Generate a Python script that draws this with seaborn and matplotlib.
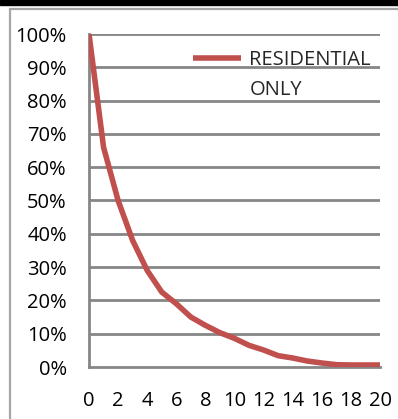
import matplotlib
matplotlib.use("Agg")
import matplotlib.pyplot as plt
from matplotlib.lines import Line2D
from matplotlib.patches import Rectangle
import seaborn as sns
import pandas as pd

# Share of properties remaining versus distance
years = list(range(0, 21))
share = [1.00, 0.66, 0.50, 0.38, 0.29, 0.225, 0.19, 0.15, 0.125, 0.103,
         0.086, 0.065, 0.051, 0.034, 0.027, 0.018, 0.012, 0.007, 0.006,
         0.006, 0.006]
series_name = "RESIDENTIAL ONLY"
y_ticks = [i / 10 for i in range(11)]
y_labels = [f"{i * 10}%" for i in range(11)]
x_labels = [str(v) if v % 2 == 0 else "" for v in years]

df = pd.DataFrame({"x": years, "share": share})

sns.set_style("white")
plt.rcParams["font.family"] = ["Open Sans", "DejaVu Sans"]

W, H = 398, 419
FS = 14.5
fig = plt.figure(figsize=(W / 100, H / 100), dpi=100)
ax = fig.add_axes([89 / W, 1 - 367 / H, (380 - 89) / W, (367 - 34) / H])

GRAY = "#868686"
RED = "#C0504D"

sns.lineplot(data=df, x="x", y="share", ax=ax, color=RED, linewidth=4.0,
             solid_capstyle="butt", legend=False, zorder=3)

ax.set_xlim(0, 20)
ax.set_ylim(0, 1)
ax.set_yticks(y_ticks)
ax.set_yticklabels(y_labels)
ax.set_xticks(years)
ax.set_xticklabels(x_labels)
ax.set_xlabel("")
ax.set_ylabel("")

for yv in y_ticks[1:]:
    ax.axhline(yv, color=GRAY, linewidth=2.0, zorder=1)

for side in ("top", "right"):
    ax.spines[side].set_visible(False)
for side in ("left", "bottom"):
    ax.spines[side].set_color(GRAY)
    ax.spines[side].set_linewidth(2.0)
    ax.spines[side].set_zorder(2)

ax.tick_params(axis="y", direction="out", length=6.5, width=2.0, color=GRAY,
               pad=9.5, labelsize=FS, labelcolor="black")
ax.tick_params(axis="x", direction="out", length=4.5, width=2.0, color=GRAY,
               pad=13.0, labelsize=FS, labelcolor="black")

# Legend: coloured sample beside the first line of the series name
words = series_name.split()
handles = [Line2D([], [], color=RED, linewidth=4.0, solid_capstyle="butt"),
           Line2D([], [], color="none")]
leg = ax.legend(handles, [words[0], words[1]], loc="upper left",
                bbox_to_anchor=(193 / W, 1 - 50 / H),
                bbox_transform=fig.transFigure, frameon=False,
                fontsize=FS, handlelength=2.4, handletextpad=0.4,
                labelspacing=0.5, borderpad=0, borderaxespad=0)

# Outer chart frame and top band
fig.add_artist(Rectangle((0, 1 - 5 / H), 1, 5 / H, transform=fig.transFigure,
                         color="black", zorder=10))
fig.add_artist(Line2D([9.5 / W, 1], [1 - 9 / H, 1 - 9 / H],
                      transform=fig.transFigure, color="#A6A6A6", linewidth=1.6))
fig.add_artist(Line2D([9.5 / W, 9.5 / W], [0, 1 - 9 / H],
                      transform=fig.transFigure, color="#A6A6A6", linewidth=1.6))

fig.savefig("out.png", dpi=100)
